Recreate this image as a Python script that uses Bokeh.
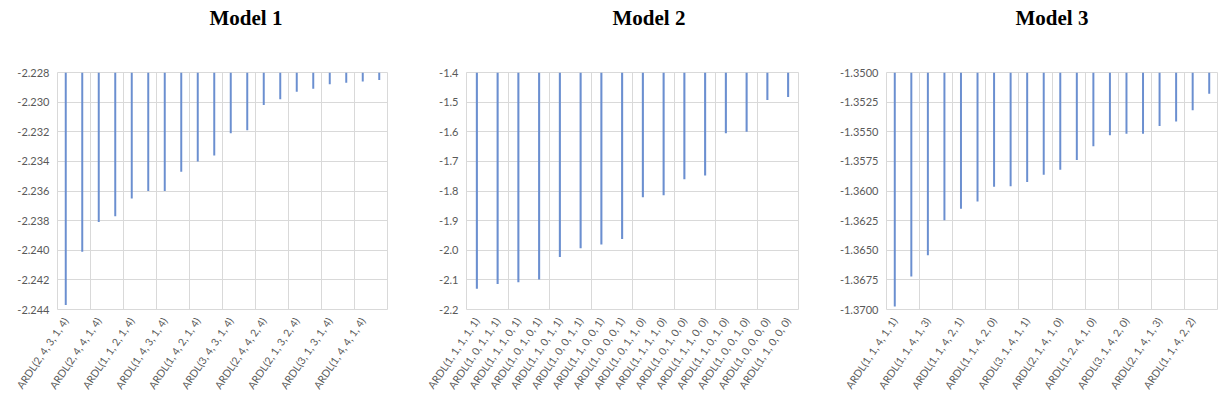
import math
from bokeh.plotting import figure
from bokeh.layouts import row
from bokeh.models import FixedTicker, SingleIntervalTicker, NumeralTickFormatter, Range1d, Title
from bokeh.embed import file_html
from bokeh.resources import INLINE

# ---------------- data ----------------
m1_values = [-2.2437, -2.2401, -2.2381, -2.2377, -2.2365, -2.2360, -2.2360, -2.2347,
             -2.2340, -2.2336, -2.2321, -2.2319, -2.2302, -2.2298, -2.2293, -2.2291,
             -2.2288, -2.2287, -2.2286, -2.2285]
m1_labels = ["ARDL(2, 4, 3, 1, 4)", "ARDL(2, 4, 4, 1, 4)", "ARDL(1, 1, 2, 1, 4)",
             "ARDL(1, 4, 3, 1, 4)", "ARDL(1, 4, 2, 1, 4)", "ARDL(3, 4, 3, 1, 4)",
             "ARDL(2, 4, 4, 2, 4)", "ARDL(2, 1, 3, 2, 4)", "ARDL(3, 1, 3, 1, 4)",
             "ARDL(1, 4, 4, 1, 4)"]
m1_ymin, m1_ymax, m1_step = -2.244, -2.228, 0.002

m2_values = [-2.130, -2.114, -2.108, -2.099, -2.023, -1.993, -1.981, -1.962,
             -1.821, -1.814, -1.760, -1.748, -1.605, -1.600, -1.493, -1.483]
m2_labels = ["ARDL(1, 1, 1, 1, 1)", "ARDL(1, 0, 1, 1, 1)", "ARDL(1, 1, 1, 0, 1)",
             "ARDL(1, 0, 1, 0, 1)", "ARDL(1, 1, 0, 1, 1)", "ARDL(1, 0, 0, 1, 1)",
             "ARDL(1, 1, 0, 0, 1)", "ARDL(1, 0, 0, 0, 1)", "ARDL(1, 0, 1, 1, 0)",
             "ARDL(1, 1, 1, 1, 0)", "ARDL(1, 0, 1, 0, 0)", "ARDL(1, 1, 1, 0, 0)",
             "ARDL(1, 1, 0, 1, 0)", "ARDL(1, 0, 0, 1, 0)", "ARDL(1, 0, 0, 0, 0)",
             "ARDL(1, 1, 0, 0, 0)"]
m2_ymin, m2_ymax, m2_step = -2.2, -1.4, 0.1

m3_values = [-1.36975, -1.36721, -1.36543, -1.36247, -1.36149, -1.36088, -1.35965,
             -1.35960, -1.35923, -1.35862, -1.35820, -1.35739, -1.35622, -1.35530,
             -1.35516, -1.35516, -1.35452, -1.35413, -1.35318, -1.35179]
m3_labels = ["ARDL(1, 1, 4, 1, 1)", "ARDL(1, 1, 4, 1, 3)", "ARDL(1, 1, 4, 2, 1)",
             "ARDL(1, 1, 4, 2, 0)", "ARDL(3, 1, 4, 1, 1)", "ARDL(2, 1, 4, 1, 0)",
             "ARDL(1, 2, 4, 1, 0)", "ARDL(3, 1, 4, 2, 0)", "ARDL(2, 1, 4, 1, 3)",
             "ARDL(1, 1, 4, 2, 2)"]
m3_ymin, m3_ymax, m3_step = -1.37, -1.35, 0.0025

titles = ["Model 1", "Model 2", "Model 3"]

BAR = "#6b8fd0"
GRID = "#d9d9d9"
TXT = "#595959"
FONT = "Lato"


def make_panel(title, values, labels, label_every, ymin, ymax, step, fmt,
               width, bl, br, bt, bar_w, title_off):
    n = len(values)
    xs = list(range(1, n + 1))
    p = figure(width=width, height=400, output_backend="svg", toolbar_location=None,
               x_range=Range1d(0.5, n + 0.5), y_range=Range1d(ymin, ymax),
               min_border_left=bl, min_border_right=br, min_border_top=bt,
               min_border_bottom=91)
    p.vbar(x=xs, top=ymax, bottom=values, width=bar_w, color=BAR, line_color=None)

    tick_pos = xs[::label_every]
    p.xaxis.ticker = FixedTicker(ticks=tick_pos)
    p.xaxis.major_label_overrides = {t: lab for t, lab in zip(tick_pos, labels)}
    p.xaxis.major_label_orientation = math.radians(56)
    p.xaxis.major_label_text_font = FONT
    p.xaxis.major_label_text_font_size = "10.5px"
    p.xaxis.major_label_text_color = TXT
    p.xaxis.major_label_standoff = 3

    p.yaxis.ticker = SingleIntervalTicker(interval=step, num_minor_ticks=0)
    p.yaxis.formatter = NumeralTickFormatter(format=fmt)
    p.yaxis.major_label_text_font = FONT
    p.yaxis.major_label_text_font_size = "11px"
    p.yaxis.major_label_text_color = TXT
    p.yaxis.major_label_standoff = 2

    for ax in (p.xaxis, p.yaxis):
        ax.axis_line_color = None
        ax.major_tick_line_color = None
        ax.minor_tick_line_color = None

    p.xgrid.ticker = FixedTicker(ticks=[i + 0.5 for i in xs[1:-1:2]])
    p.xgrid.grid_line_color = GRID
    p.ygrid.grid_line_color = GRID
    p.outline_line_color = GRID

    # spacer panel between the frame and the title (pushes the title up)
    p.add_layout(Title(text=" ", text_font_size="1px", standoff=40), "above")

    p.title.text = title
    p.title.text_font = "Liberation Serif"
    p.title.text_font_style = "bold"
    p.title.text_font_size = "21px"
    p.title.text_color = "#000000"
    p.title.align = "left"
    p.title.offset = title_off
    p.title.standoff = 0
    p.background_fill_color = "white"
    p.border_fill_color = "white"
    return p


p1 = make_panel(titles[0], m1_values, m1_labels, 2, m1_ymin, m1_ymax, m1_step, "0.000",
                410, 57, 23, 72, 0.12, 152)
p2 = make_panel(titles[1], m2_values, m2_labels, 1, m2_ymin, m2_ymax, m2_step, "0.0",
                405, 56, 17, 71, 0.1, 146)
p3 = make_panel(titles[2], m3_values, m3_labels, 2, m3_ymin, m3_ymax, m3_step, "0.0000",
                403, 71, 1, 69, 0.12, 129)

layout = row(p1, p2, p3, spacing=0)
open("out.html", "w").write(file_html(layout, INLINE))
